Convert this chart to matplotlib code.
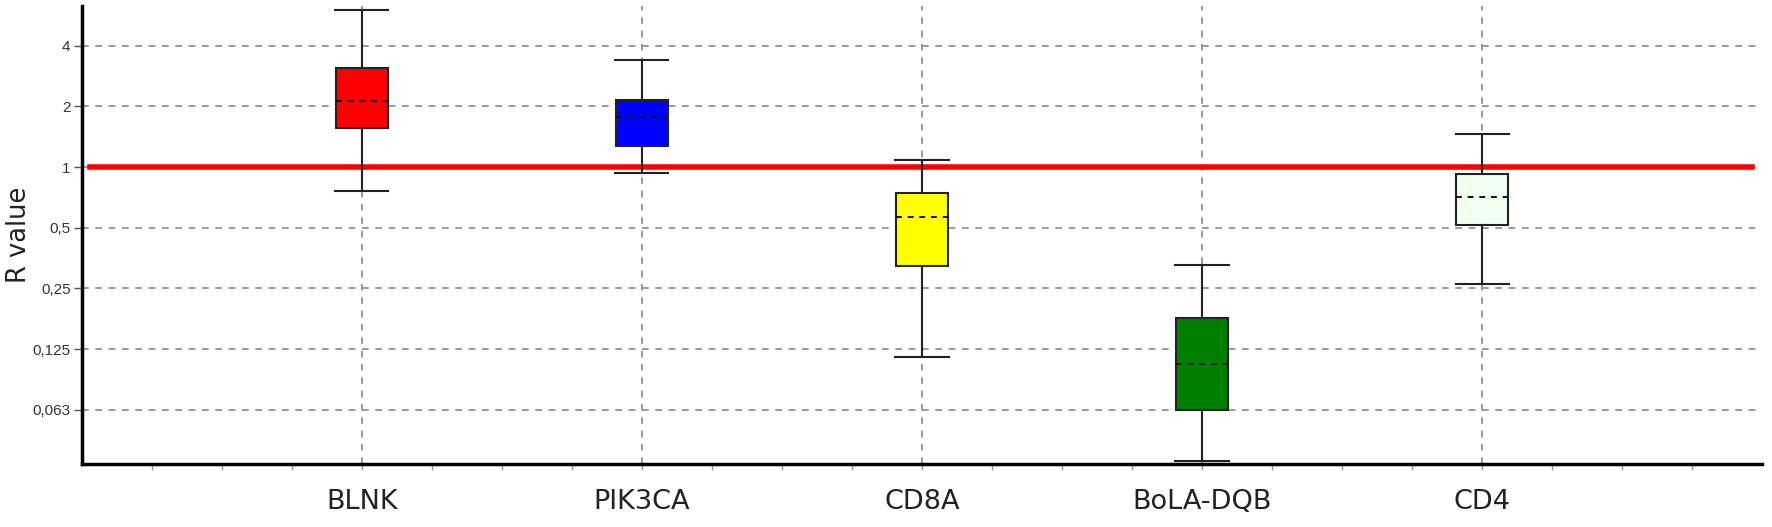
import matplotlib
matplotlib.use("Agg")
import matplotlib.pyplot as plt
from matplotlib.ticker import FixedLocator, NullFormatter
import numpy as np

# ---- data ----
genes = ["BLNK", "PIK3CA", "CD8A", "BoLA-DQB", "CD4"]
whisker_low = [0.76, 0.93, 0.114, 0.0347, 0.264]
q1 = [1.57, 1.27, 0.323, 0.0622, 0.514]
median = [2.14, 1.78, 0.563, 0.105, 0.713]
q3 = [3.09, 2.15, 0.746, 0.179, 0.927]
whisker_high = [6.05, 3.41, 1.08, 0.328, 1.46]
box_colors = ["#ff0000", "#0000ff", "#ffff00", "#008000", "#f0fff0"]

y_ticks = [0.0625, 0.125, 0.25, 0.5, 1, 2, 4]
y_tick_labels = ["0,063", "0,125", "0,25", "0,5", "1", "2", "4"]
reference_value = 1.0

fig = plt.figure(figsize=(17.72, 5.27), dpi=100)
ax = fig.add_axes([0.0461, 0.119, 0.9484, 0.8695])

positions = np.arange(1, len(genes) + 1)
stats = []
for i, g in enumerate(genes):
    stats.append(dict(label=g, med=median[i], q1=q1[i], q3=q3[i],
                      whislo=whisker_low[i], whishi=whisker_high[i], fliers=[]))

ax.set_yscale("log", base=2)
ax.set_ylim(0.0335, 6.3)
ax.set_xlim(0, 6)

# grid
for yt in y_ticks:
    ax.axhline(yt, color="#8a8a8a", lw=1.2, ls=(0, (4, 4)), zorder=1)
for xp in positions:
    ax.axvline(xp, color="#8a8a8a", lw=1.2, ls=(0, (4, 4)), zorder=1)

# reference line
ax.axhline(reference_value, xmin=0.005, xmax=0.994, color="#ff0000", lw=4.0, zorder=2)

bp = ax.bxp(stats, positions=positions, widths=0.186, patch_artist=True,
            showfliers=False, zorder=3,
            boxprops=dict(edgecolor="#222222", linewidth=1.5),
            whiskerprops=dict(color="#222222", linewidth=1.5),
            capprops=dict(color="#222222", linewidth=1.5),
            medianprops=dict(color="#111111", linewidth=1.4, linestyle=(0, (3, 3))),
            capwidths=0.19)
for patch, c in zip(bp["boxes"], box_colors):
    patch.set_facecolor(c)
for k in ("whiskers", "caps", "medians"):
    for art in bp[k]:
        art.set_zorder(4)

# axes style
ax.spines["top"].set_visible(False)
ax.spines["right"].set_visible(False)
ax.spines["left"].set_linewidth(2.5)
ax.spines["bottom"].set_linewidth(2.5)

ax.yaxis.set_major_locator(FixedLocator(y_ticks))
ax.set_yticklabels(y_tick_labels, fontsize=11, color="#333340", family="Liberation Sans")
ax.yaxis.set_minor_locator(FixedLocator([2 ** e for e in np.arange(-5, 3, 0.2)]))
ax.yaxis.set_minor_formatter(NullFormatter())
ax.tick_params(axis="y", which="major", length=6, width=1, color="#555555", pad=2)
ax.tick_params(axis="y", which="minor", length=2, width=0.8, color="#999999", direction="inout")

ax.set_xticks(positions)
ax.set_xticklabels(genes, fontsize=19.5, color="#222222", family="DejaVu Sans")
ax.xaxis.set_minor_locator(FixedLocator(np.arange(0.25, 6, 0.25)))
ax.tick_params(axis="x", which="major", length=4, width=1, color="#999999", pad=14)
ax.tick_params(axis="x", which="minor", length=4, width=1, color="#999999")

ax.set_ylabel("R value", fontsize=18.5, family="DejaVu Sans", color="#222222")
ax.yaxis.set_label_coords(-0.0296, 0.5)

fig.savefig("out.png", dpi=100)
